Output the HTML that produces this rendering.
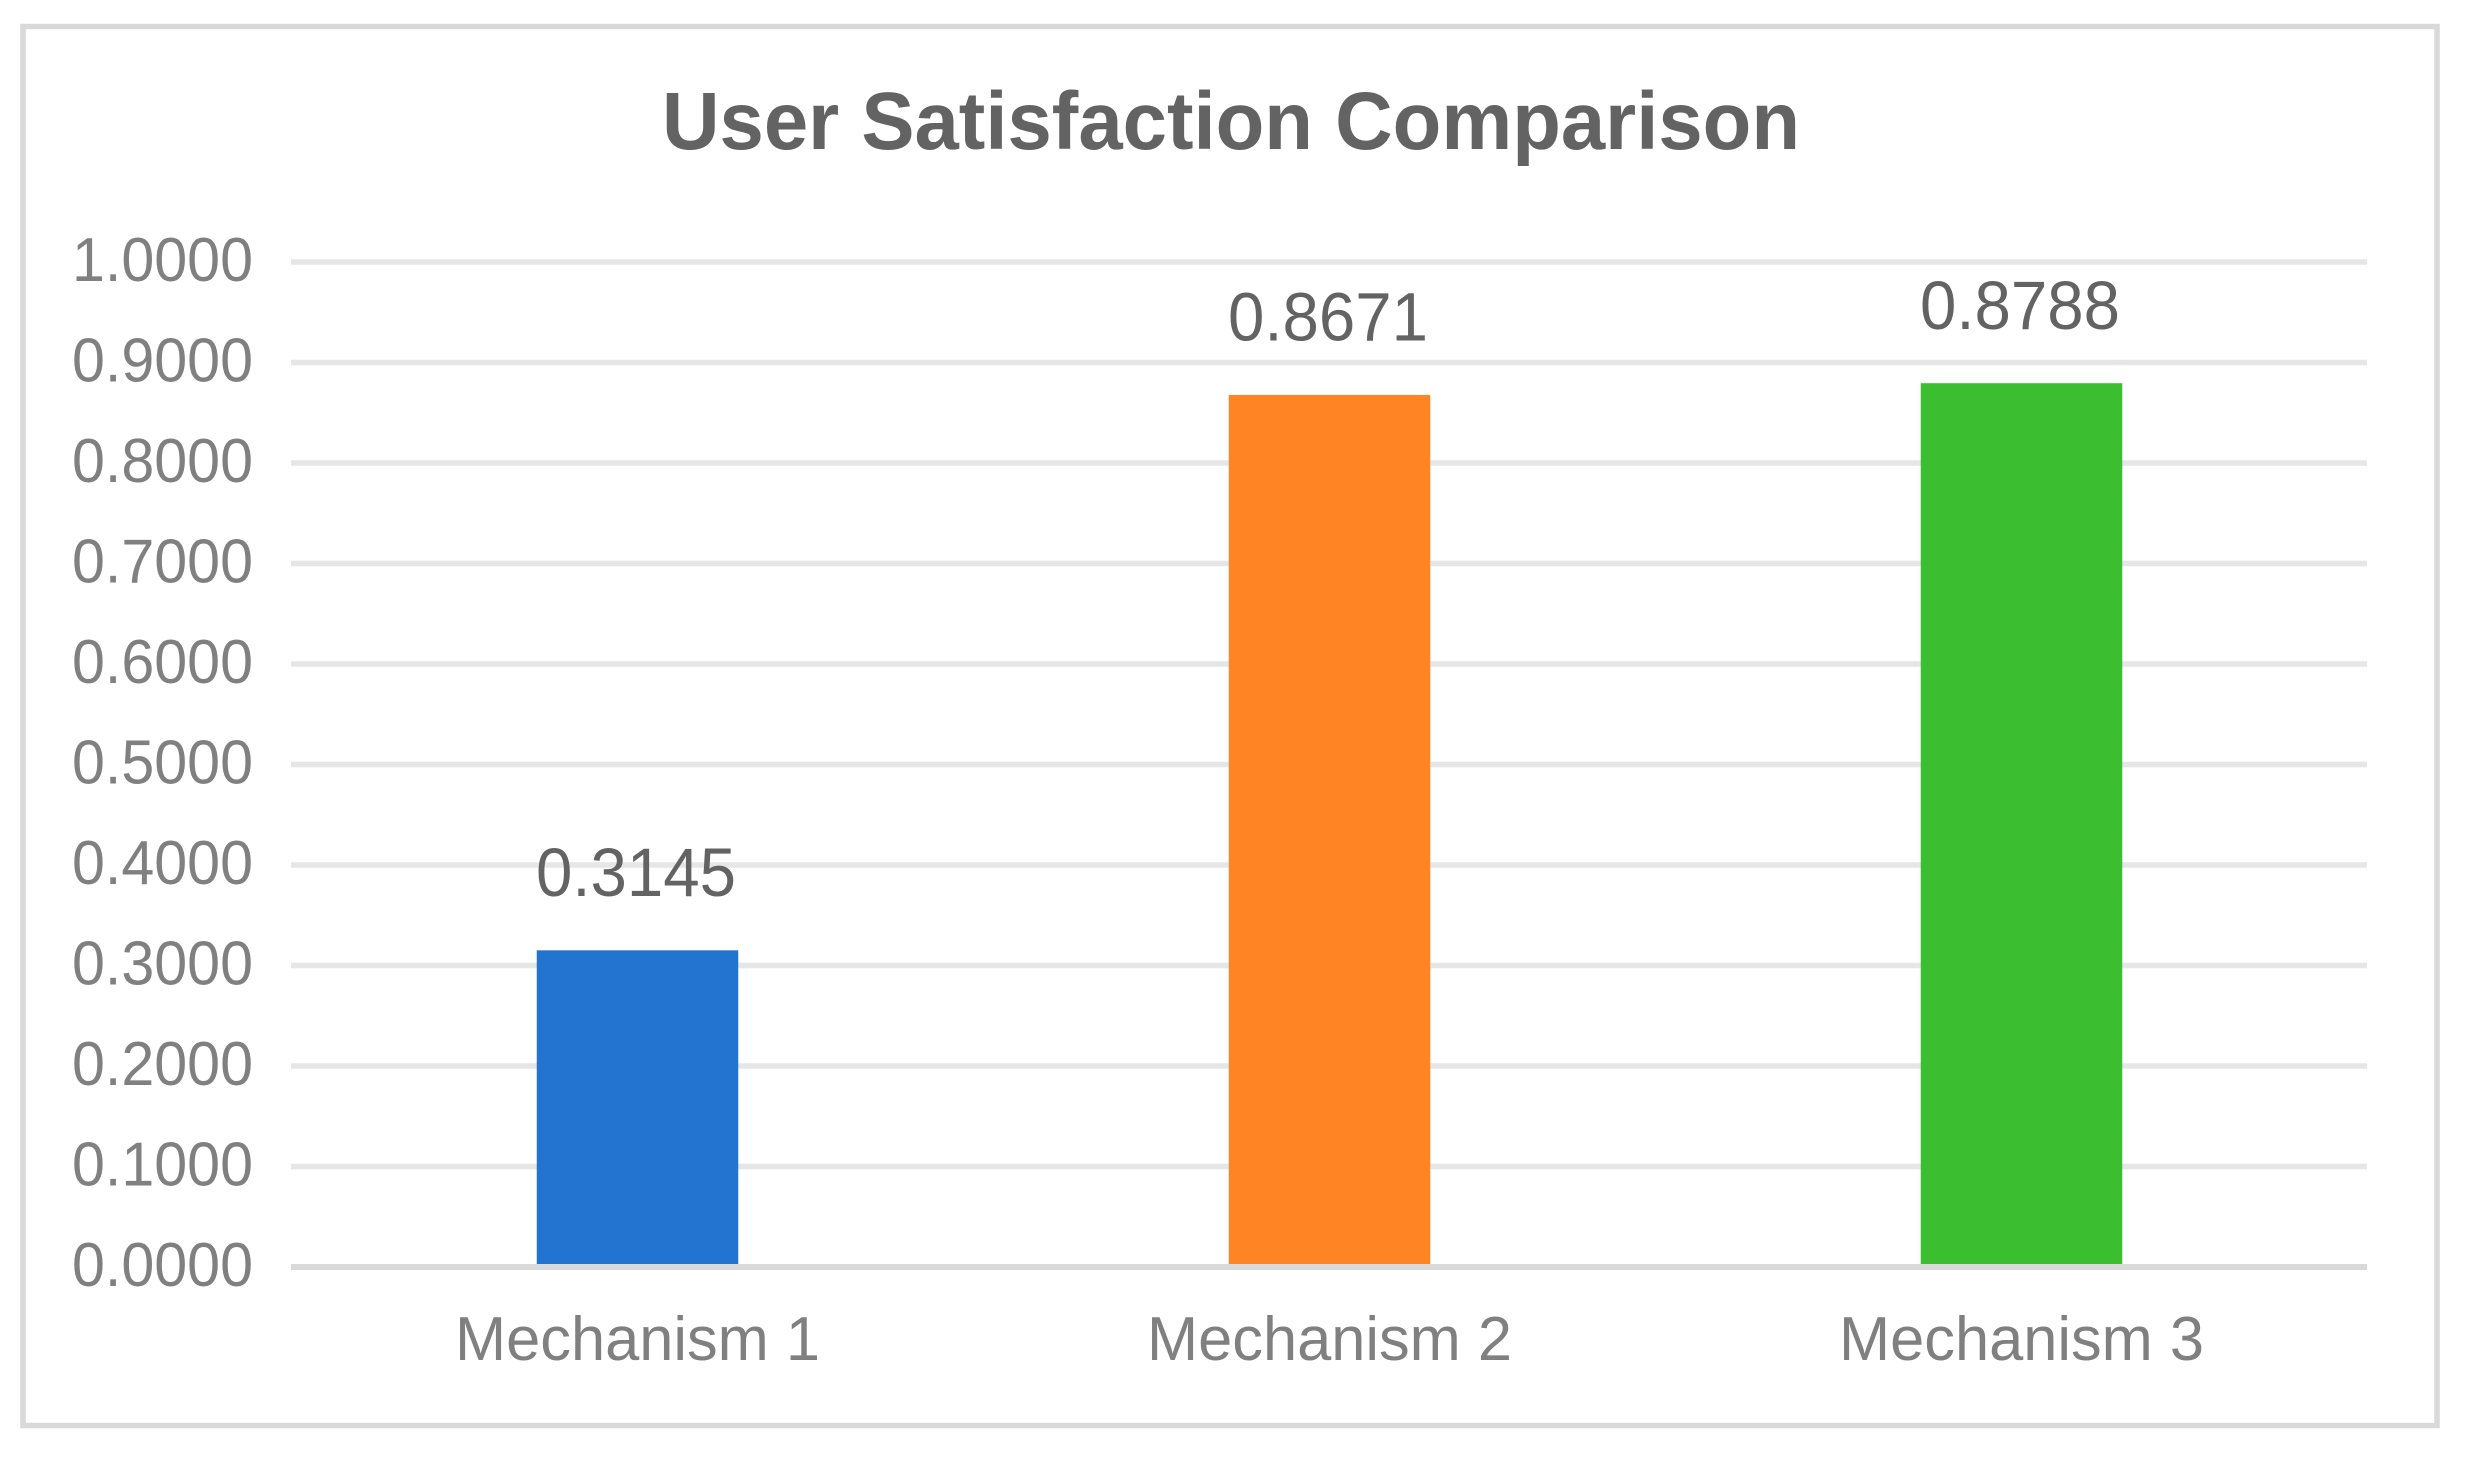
<!DOCTYPE html>
<html lang="en">
<head>
<meta charset="utf-8">
<title>User Satisfaction Comparison</title>
<style>
html,body{margin:0;padding:0;background:#fff;width:2465px;height:1457px;overflow:hidden}
svg{display:block;font-family:"Liberation Sans",sans-serif}
</style>
</head>
<body>
<svg id="chart" xmlns="http://www.w3.org/2000/svg" width="2465" height="1457" viewBox="0 0 2465 1457">
  <rect x="0" y="0" width="2465" height="1457" fill="#ffffff"/>
  <rect x="23" y="26.5" width="2414" height="1399" fill="#ffffff" stroke="#d9d9d9" stroke-width="5.5"/>
  <text x="1231" y="149" font-size="82" font-weight="700" fill="#636363" text-anchor="middle" textLength="1138" lengthAdjust="spacingAndGlyphs">User Satisfaction Comparison</text>
  <g id="grid"></g>
  <g id="bars"></g>
  <g id="axis"></g>
  <g id="ticks"></g>
  <g id="cats"></g>
  <g id="vals"></g>
</svg>
<script>
const categories = ["Mechanism 1", "Mechanism 2", "Mechanism 3"];
const satisfaction = [0.3145, 0.8671, 0.8788];
const barColors = ["#2274d0", "#ff8524", "#3bbe30"];
const yTicks = [0, 0.1, 0.2, 0.3, 0.4, 0.5, 0.6, 0.7, 0.8, 0.9, 1];

const NS = "http://www.w3.org/2000/svg";
const plotLeft = 291, plotRight = 2367, plotBottom = 1267, plotTop = 262;
const yMin = 0, yMax = 1;
const barWidth = 201.5;

function yScale(v) {
  return plotBottom - (v - yMin) / (yMax - yMin) * (plotBottom - plotTop);
}
function xBand(i) {
  return plotLeft + (i + 0.5) * (plotRight - plotLeft) / categories.length;
}
function make(tag, attrs, parent, content) {
  const el = document.createElementNS(NS, tag);
  for (const k in attrs) el.setAttribute(k, attrs[k]);
  if (content !== undefined) el.textContent = content;
  parent.appendChild(el);
  return el;
}

const gridG = document.getElementById("grid");
const ticksG = document.getElementById("ticks");
yTicks.forEach(function (t) {
  if (t !== yMin) {
    const line = make("line", {x1: plotLeft, x2: plotRight, y1: yScale(t), y2: yScale(t), stroke: "#e6e6e6", "stroke-width": 5.5}, gridG);
    
    
  }
  const label = make("text", {x: 253, y: yScale(t) + 19, "font-size": 62, fill: "#808080", "text-anchor": "end", textLength: 181, lengthAdjust: "spacingAndGlyphs"}, ticksG, t.toFixed(4));
  
  
});

const barsG = document.getElementById("bars");
const catsG = document.getElementById("cats");
const valsG = document.getElementById("vals");
satisfaction.forEach(function (v, i) {
  const cx = xBand(i);
  const bar = make("rect", {x: cx - barWidth / 2 + 0.5, y: yScale(v) - 0.6, width: barWidth, height: yScale(yMin) - yScale(v) + 0.6, fill: barColors[i]}, barsG);
  
  
  const val = make("text", {x: cx - 1, y: yScale(v) - 55, "font-size": 69, fill: "#636363", "text-anchor": "middle", textLength: 200, lengthAdjust: "spacingAndGlyphs"}, valsG, v.toFixed(4));
  
  
  const cat = make("text", {x: cx + 0.5, y: 1360, "font-size": 62, fill: "#808080", "text-anchor": "middle", textLength: 365, lengthAdjust: "spacingAndGlyphs"}, catsG, categories[i]);
  
  
});

const axisLine = make("line", {x1: plotLeft, x2: plotRight, y1: yScale(yMin), y2: yScale(yMin), stroke: "#d9d9d9", "stroke-width": 6}, document.getElementById("axis"));


</script>
</body>
</html>
